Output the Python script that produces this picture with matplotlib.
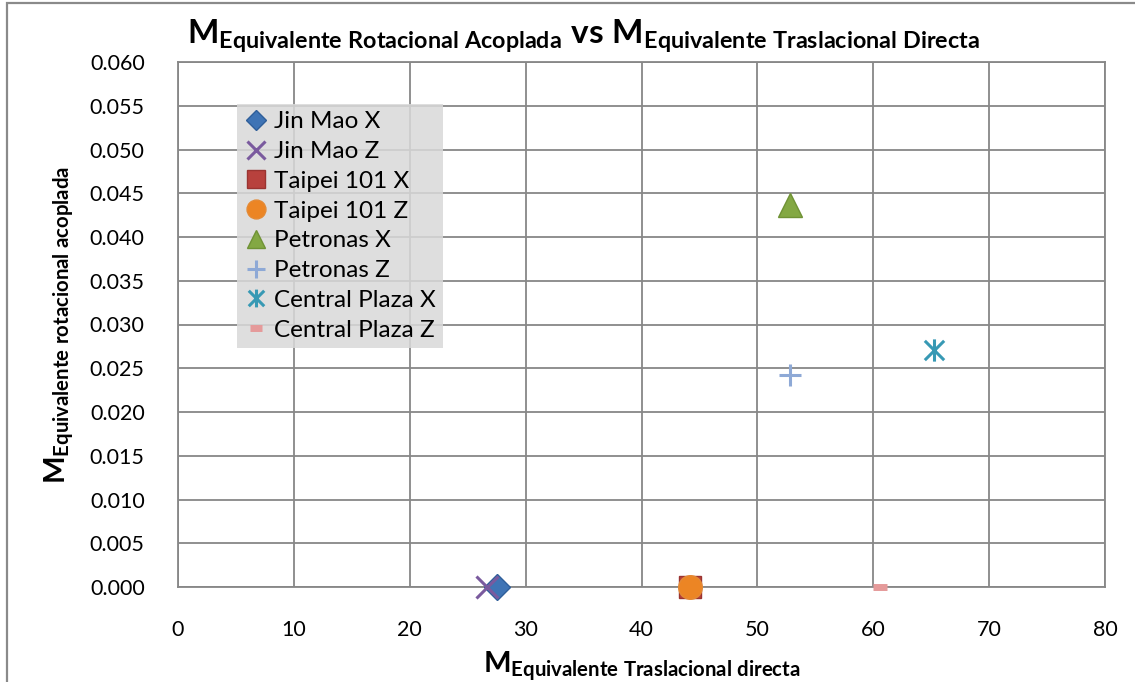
import matplotlib
matplotlib.use("Agg")
import matplotlib.pyplot as plt
from matplotlib.path import Path
from matplotlib.patches import Rectangle

plt.rcParams['font.family'] = ['Lato', 'DejaVu Sans']
plt.rcParams['mathtext.fontset'] = 'custom'
plt.rcParams['mathtext.rm'] = 'Lato'
plt.rcParams['mathtext.bf'] = 'Lato:bold'
plt.rcParams['mathtext.it'] = 'Lato:italic'

# data
series = ["Jin Mao X", "Jin Mao Z", "Taipei 101 X", "Taipei 101 Z",
          "Petronas X", "Petronas Z", "Central Plaza X", "Central Plaza Z"]
x_vals = [27.5, 26.7, 44.2, 44.2, 52.8, 52.8, 65.2, 60.6]
y_vals = [0.0, 0.0, 0.0, 0.0, 0.0437, 0.0242, 0.0271, 0.0]
x_ticks = [0, 10, 20, 30, 40, 50, 60, 70, 80]
y_ticks = [0.000, 0.005, 0.010, 0.015, 0.020, 0.025, 0.030, 0.035, 0.040, 0.045, 0.050, 0.055, 0.060]

asterisk = Path([(0, -1), (0, 1), (-0.87, -0.87), (0.87, 0.87), (-0.87, 0.87), (0.87, -0.87)],
                [Path.MOVETO, Path.LINETO, Path.MOVETO, Path.LINETO, Path.MOVETO, Path.LINETO])

styles = [
    dict(marker='D', ms=13, mfc='#3F74B5', mec='#2F5F9A', mew=1),
    dict(marker='x', ms=16, mfc='none', mec='#7A5A9E', mew=2.2),
    dict(marker='s', ms=16, mfc='#B8413D', mec='#9A3431', mew=1),
    dict(marker='o', ms=17, mfc='#EC8524', mec='#E48A35', mew=1),
    dict(marker='^', ms=17, mfc='#83A843', mec='#6F9235', mew=1),
    dict(marker='+', ms=16, mfc='none', mec='#8EA9D6', mew=2.2),
    dict(marker=asterisk, ms=16, mfc='none', mec='#3799B4', mew=2.2),
    dict(marker='_', ms=10, mfc='#E59A9A', mec='#E59A9A', mew=5),
]

fig = plt.figure(figsize=(11.35, 6.82), dpi=100)
W, H = 1135, 682
ax = fig.add_axes([178 / W, 1 - 587 / H, (1105 - 178) / W, (587 - 62) / H])

for name, xv, yv, st in zip(series, x_vals, y_vals, styles):
    ax.plot([xv], [yv], linestyle='none', label=name, clip_on=False, zorder=5, **st)

ax.set_xlim(0, 80)
ax.set_ylim(0, 0.060)
ax.set_xticks(x_ticks)
ax.set_yticks(y_ticks)
ax.set_xticklabels([str(t) for t in x_ticks])
ax.set_yticklabels([f"{t:.3f}" for t in y_ticks])
ax.tick_params(axis='both', length=0, labelsize=15.5)
ax.tick_params(axis='x', pad=24)
ax.tick_params(axis='y', pad=24)
ax.grid(True, color='#878787', linewidth=1.3)
ax.set_axisbelow(True)
for sp in ax.spines.values():
    sp.set_color('#878787')
    sp.set_linewidth(1.3)

leg = ax.legend(loc='upper left', bbox_to_anchor=(0.064, 0.92), frameon=True,
                fontsize=17.5, handlelength=0.95, handletextpad=0.25, borderpad=0.3,
                labelspacing=0.36, borderaxespad=0, markerscale=0.8, fancybox=False)
leg.get_frame().set_facecolor('#D9D9D9')
leg.get_frame().set_alpha(0.85)
leg.get_frame().set_edgecolor('none')

fig.text(0.514, 1 - 36 / H,
         r'$\mathbf{M}_{\mathbf{Equivalente\ Rotacional\ Acoplada}}\ \mathbf{vs}\ \mathbf{M}_{\mathbf{Equivalente\ Traslacional\ Directa}}$',
         fontsize=24, ha='center', va='center')
ax.set_ylabel(r'$\mathbf{M}_{\mathbf{Equivalente\ rotacional\ acoplada}}$', fontsize=21, labelpad=10)
ax.set_xlabel(r'$\mathbf{M}_{\mathbf{Equivalente\ Traslacional\ directa}}$', fontsize=21, labelpad=6)

fig.patches.append(Rectangle((7 / W, -0.1), 1.2, 1 - 3 / H + 0.1, transform=fig.transFigure,
                             fill=False, edgecolor='#8A8A8A', linewidth=1.6))

fig.savefig('out.png', dpi=100)
